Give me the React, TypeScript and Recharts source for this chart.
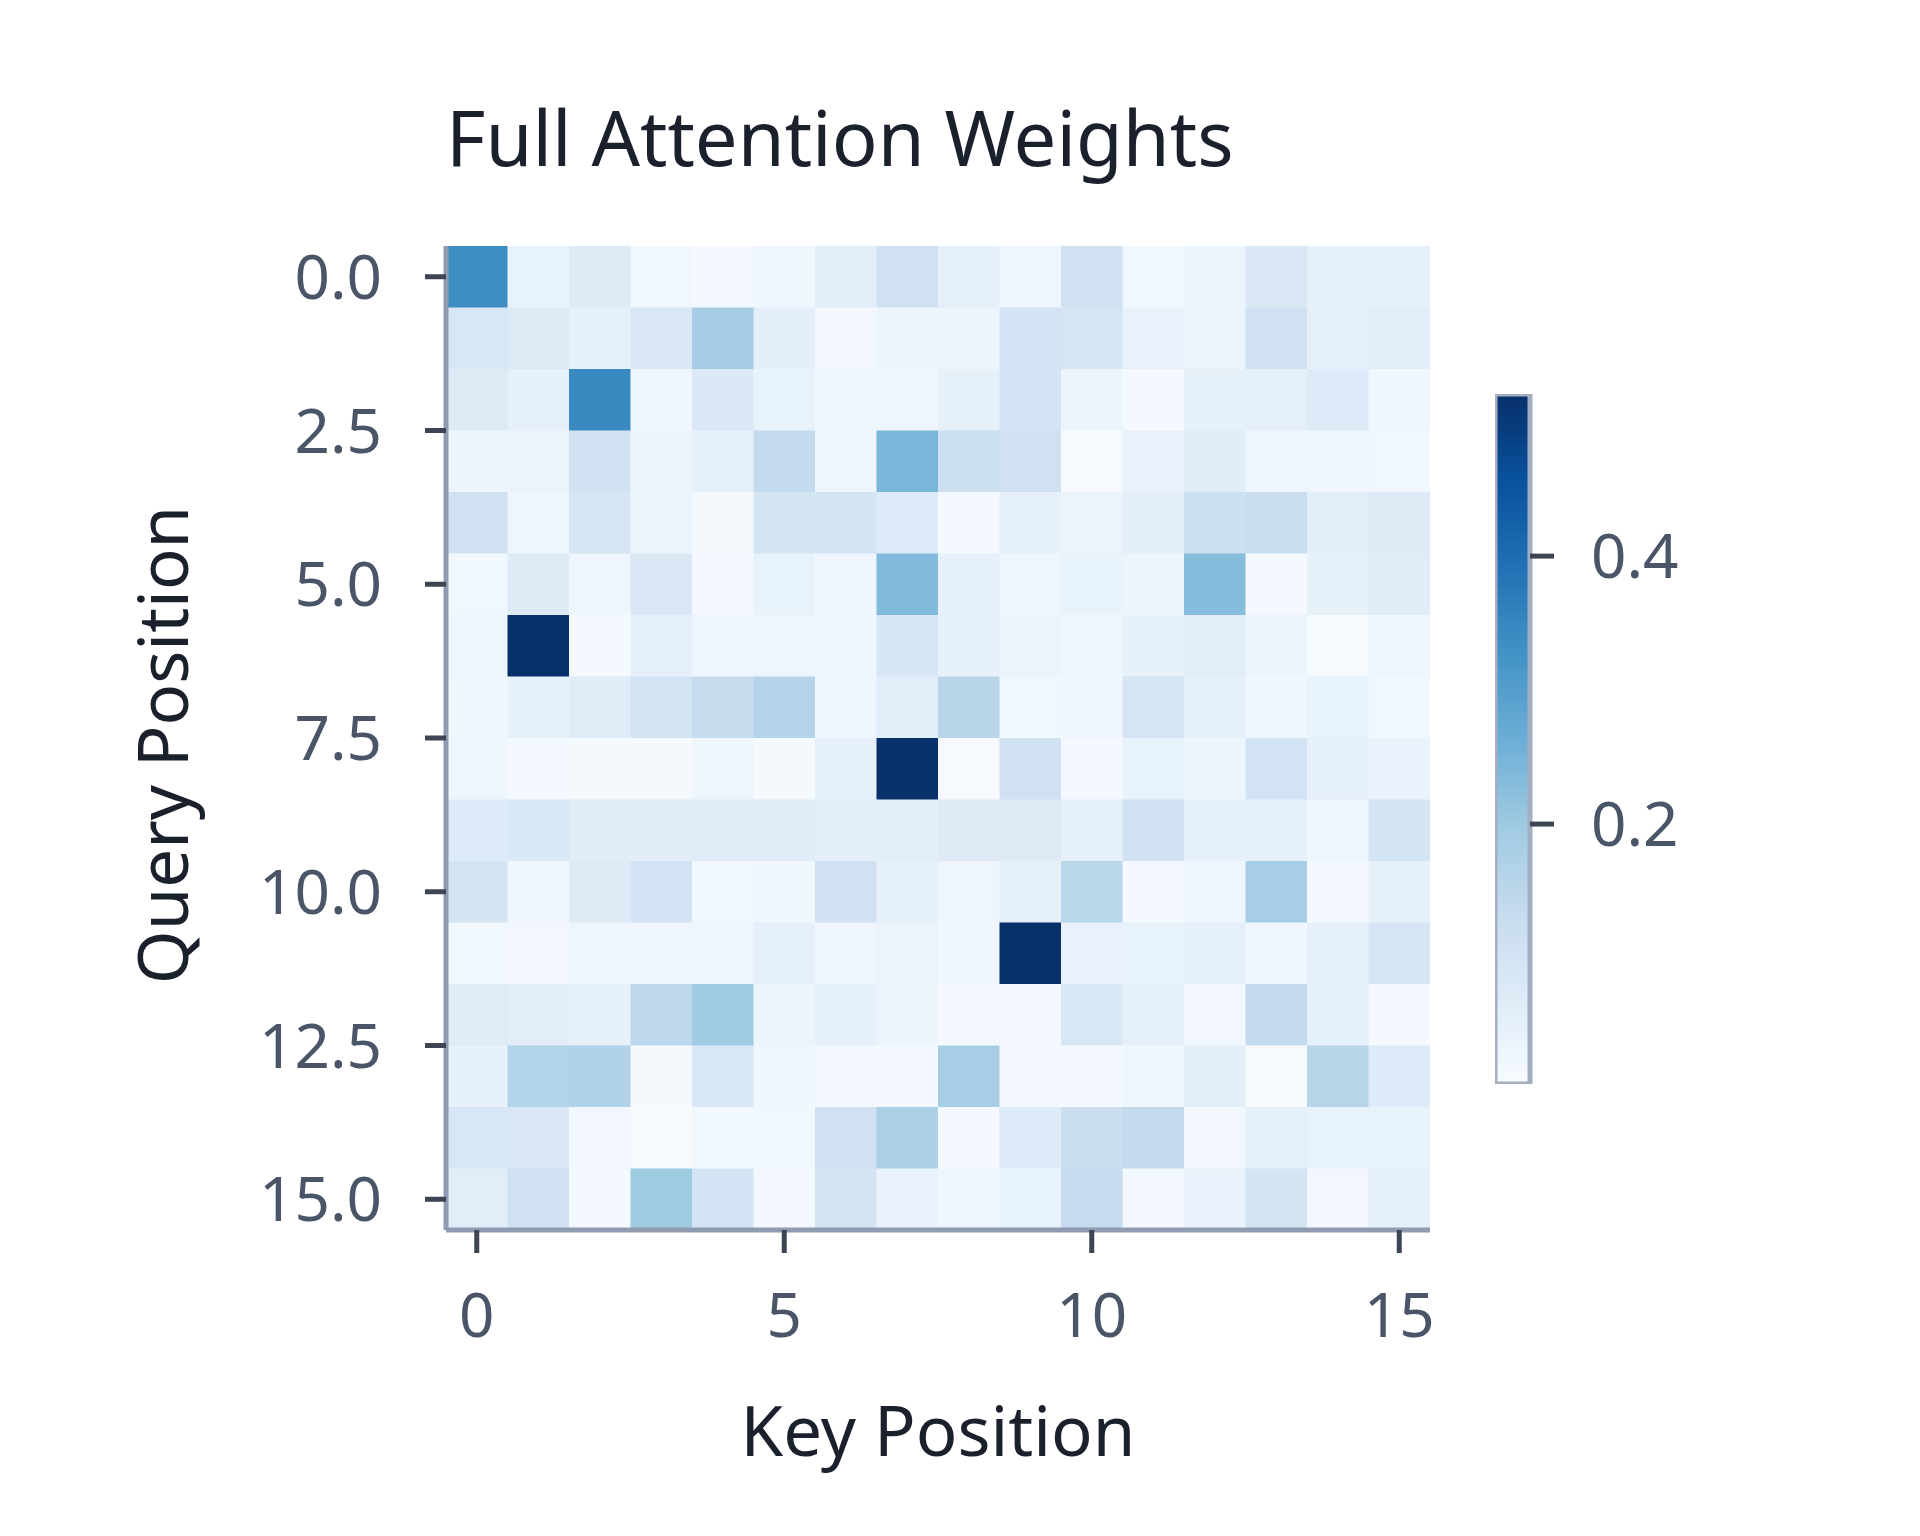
import React from 'react';
import { ScatterChart, Scatter, XAxis, YAxis, BarChart, Bar } from 'recharts';

const keyPositions = [0, 1, 2, 3, 4, 5, 6, 7, 8, 9, 10, 11, 12, 13, 14, 15];
const queryPositions = [0, 1, 2, 3, 4, 5, 6, 7, 8, 9, 10, 11, 12, 13, 14, 15];

// attention[query][key]
const attention = [
  [0.338, 0.044, 0.07, 0.024, 0.016, 0.026, 0.057, 0.11, 0.055, 0.029, 0.108, 0.024, 0.034, 0.081, 0.05, 0.05],
  [0.086, 0.075, 0.05, 0.081, 0.186, 0.057, 0.019, 0.034, 0.032, 0.097, 0.094, 0.042, 0.037, 0.11, 0.052, 0.062],
  [0.075, 0.05, 0.343, 0.026, 0.078, 0.044, 0.026, 0.029, 0.052, 0.097, 0.034, 0.016, 0.052, 0.055, 0.073, 0.026],
  [0.034, 0.037, 0.108, 0.032, 0.047, 0.138, 0.029, 0.243, 0.116, 0.108, 0.009, 0.042, 0.065, 0.029, 0.026, 0.024],
  [0.108, 0.029, 0.092, 0.034, 0.014, 0.1, 0.1, 0.073, 0.016, 0.052, 0.037, 0.057, 0.116, 0.127, 0.06, 0.07],
  [0.024, 0.07, 0.029, 0.081, 0.016, 0.044, 0.026, 0.234, 0.05, 0.029, 0.044, 0.032, 0.229, 0.016, 0.047, 0.065],
  [0.029, 0.52, 0.016, 0.05, 0.029, 0.029, 0.026, 0.092, 0.047, 0.037, 0.026, 0.047, 0.06, 0.032, 0.011, 0.029],
  [0.026, 0.047, 0.065, 0.1, 0.13, 0.162, 0.029, 0.062, 0.156, 0.024, 0.026, 0.094, 0.05, 0.026, 0.044, 0.024],
  [0.029, 0.016, 0.014, 0.014, 0.029, 0.014, 0.05, 0.52, 0.009, 0.108, 0.016, 0.044, 0.032, 0.102, 0.05, 0.039],
  [0.073, 0.084, 0.065, 0.065, 0.065, 0.065, 0.057, 0.057, 0.07, 0.07, 0.05, 0.105, 0.05, 0.05, 0.029, 0.1],
  [0.1, 0.026, 0.07, 0.102, 0.024, 0.026, 0.11, 0.052, 0.029, 0.052, 0.154, 0.016, 0.029, 0.185, 0.016, 0.052],
  [0.024, 0.021, 0.029, 0.029, 0.029, 0.05, 0.026, 0.037, 0.026, 0.52, 0.042, 0.044, 0.05, 0.026, 0.05, 0.094],
  [0.068, 0.062, 0.052, 0.149, 0.194, 0.034, 0.05, 0.034, 0.019, 0.019, 0.086, 0.05, 0.021, 0.138, 0.05, 0.016],
  [0.047, 0.165, 0.169, 0.014, 0.086, 0.026, 0.016, 0.016, 0.185, 0.016, 0.016, 0.026, 0.057, 0.011, 0.156, 0.073],
  [0.086, 0.081, 0.021, 0.011, 0.024, 0.024, 0.11, 0.178, 0.016, 0.073, 0.124, 0.138, 0.021, 0.055, 0.044, 0.044],
  [0.062, 0.108, 0.016, 0.197, 0.097, 0.019, 0.1, 0.039, 0.026, 0.044, 0.135, 0.021, 0.039, 0.1, 0.021, 0.05],
];

const xTicks = [0, 5, 10, 15];
const yTicks = [0, 2.5, 5, 7.5, 10, 12.5, 15];
const colorbarTicks = [0.2, 0.4];
const colorMin = 0.006;
const colorMax = 0.521;
const posDomain = [-0.5, 15.5];

// matplotlib "Blues"
const blues = ['#f7fbff', '#deebf7', '#c6dbef', '#9ecae1', '#6baed6', '#4292c6', '#2171b5', '#08519c', '#08306b'];

const FONT = "'Noto Sans', 'DejaVu Sans', sans-serif";
const PLOT_SIZE = 984;
const CELL = PLOT_SIZE / keyPositions.length;

function hexToRgb(h: string) {
  return [1, 3, 5].map((i) => parseInt(h.slice(i, i + 2), 16));
}

function bluesColor(v: number) {
  let t = (v - colorMin) / (colorMax - colorMin);
  t = Math.max(0, Math.min(1, t));
  const pos = t * (blues.length - 1);
  const i = Math.min(Math.floor(pos), blues.length - 2);
  const f = pos - i;
  const a = hexToRgb(blues[i]);
  const b = hexToRgb(blues[i + 1]);
  const c = a.map((x, j) => Math.round(x + (b[j] - x) * f));
  return `rgb(${c[0]},${c[1]},${c[2]})`;
}

const cells = queryPositions.flatMap((q) =>
  keyPositions.map((k) => ({ keyPos: k, queryPos: q, weight: attention[q][k] }))
);

// spines (left and bottom edges of the image), drawn after the cells so they sit on top
const spine = [
  { keyPos: posDomain[0], queryPos: posDomain[0] },
  { keyPos: posDomain[0], queryPos: posDomain[1] },
  { keyPos: posDomain[1], queryPos: posDomain[1] },
];

const HeatCell = (props: any) => {
  const { cx, cy, payload } = props;
  if (cx == null || cy == null) return null;
  return (
    <rect
      x={cx - CELL / 2}
      y={cy - CELL / 2}
      width={CELL + 0.6}
      height={CELL + 0.6}
      fill={bluesColor(payload.weight)}
    />
  );
};

const NoDot = () => <g />;

const YTitle = (props: any) => {
  const vb = props.viewBox;
  const x = vb.x - 58;
  const y = vb.y + vb.height / 2 + 7;
  return (
    <text x={x} y={y} transform={`rotate(-90 ${x} ${y})`} textAnchor="middle" fontSize={69} fill="#1a202c" fontFamily={FONT}>
      Query Position
    </text>
  );
};

const XTitle = (props: any) => {
  const vb = props.viewBox;
  return (
    <text x={vb.x + vb.width / 2} y={vb.y + 226} textAnchor="middle" fontSize={69} fill="#1a202c" fontFamily={FONT}>
      Key Position
    </text>
  );
};

const tickStyle = { fill: '#4a5568', fontSize: 62, fontFamily: FONT };
const tickLineStyle = { stroke: '#3d4555', strokeWidth: 5 };
const axisLineStyle = { stroke: '#8f9bb0', strokeWidth: 5 };

export default function App() {
  return (
    <div style={{ position: 'absolute', left: 0, top: 0, width: 1920, height: 1536, background: '#fff', fontFamily: FONT }}>
      <div
        style={{
          position: 'absolute',
          left: 446,
          top: 99,
          fontSize: 76,
          lineHeight: '76px',
          color: '#1a202c',
          whiteSpace: 'nowrap',
        }}
      >
        Full Attention Weights
      </div>

      <div style={{ position: 'absolute', left: 0, top: 0 }}>
        <ScatterChart width={1920} height={1536} margin={{ top: 246, right: 490, bottom: 56, left: 246 }}>
          <Scatter data={cells} dataKey="weight" shape={<HeatCell />} isAnimationActive={false} />
          <Scatter
            data={spine}
            shape={<NoDot />}
            line={{ stroke: '#8f9bb0', strokeWidth: 5, strokeLinecap: 'square' }}
            lineJointType="linear"
            isAnimationActive={false}
          />
          <XAxis
            type="number"
            dataKey="keyPos"
            domain={posDomain}
            ticks={xTicks}
            interval={0}
            height={250}
            tick={tickStyle}
            tickLine={tickLineStyle}
            axisLine={axisLineStyle}
            tickSize={23}
            tickMargin={40}
            allowDataOverflow
            label={<XTitle />}
          />
          <YAxis
            type="number"
            dataKey="queryPos"
            domain={posDomain}
            reversed
            ticks={yTicks}
            interval={0}
            width={200}
            tick={tickStyle}
            tickLine={tickLineStyle}
            axisLine={axisLineStyle}
            tickSize={21}
            tickMargin={43}
            tickFormatter={(v: number) => v.toFixed(1)}
            allowDataOverflow
            label={<YTitle />}
          />
        </ScatterChart>
      </div>

      <div style={{ position: 'absolute', left: 1495, top: 384 }}>
        <BarChart
          width={265}
          height={710}
          data={[{ name: 'weight', span: [colorMin, colorMax] }]}
          margin={{ top: 10, right: 30, bottom: 10, left: 0 }}
          barCategoryGap={0}
          barGap={0}
        >
          <defs>
            <linearGradient id="bluesGradient" x1="0" y1="1" x2="0" y2="0">
              {blues.map((c, i) => (
                <stop key={c} offset={`${(i / (blues.length - 1)) * 100}%`} stopColor={c} />
              ))}
            </linearGradient>
          </defs>
          <XAxis dataKey="name" hide />
          <YAxis
            orientation="right"
            type="number"
            domain={[colorMin, colorMax]}
            ticks={colorbarTicks}
            interval={0}
            width={200}
            tick={tickStyle}
            tickLine={tickLineStyle}
            axisLine={false}
            tickSize={24}
            tickMargin={37}
            tickFormatter={(v: number) => v.toFixed(1)}
            allowDataOverflow
          />
          <Bar dataKey="span" fill="url(#bluesGradient)" stroke="#a3afc0" strokeWidth={5} isAnimationActive={false} />
        </BarChart>
      </div>
    </div>
  );
}
